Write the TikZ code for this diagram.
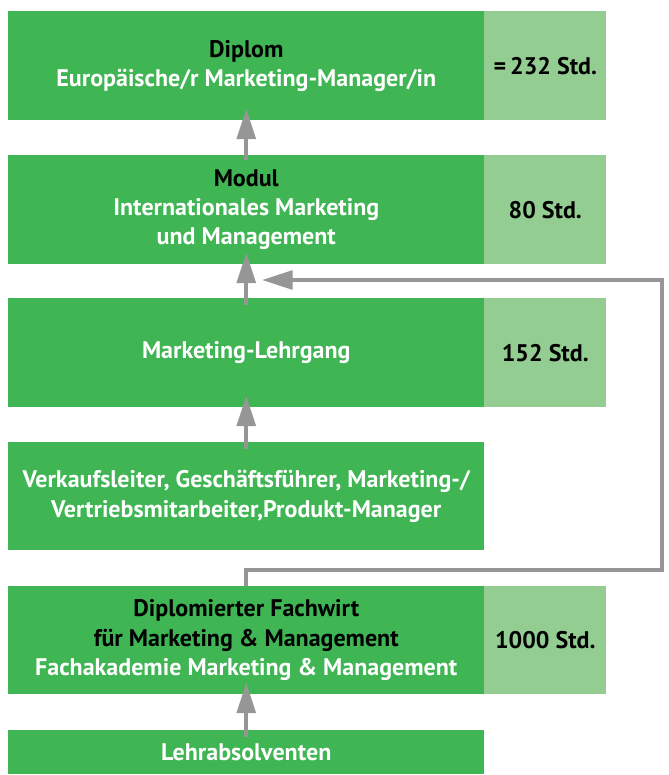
\documentclass[tikz,border=0pt]{standalone}
\usepackage{fontspec}
\setmainfont{PT Sans}
\usetikzlibrary{arrows.meta}
\begin{document}
\begin{tikzpicture}[x=0.75pt,y=-0.75pt,
box/.style={fill=color1,inner sep=0pt,minimum width=357pt,minimum height=81.75pt,anchor=north west,align=center,text=white,font=\fontsize{18}{22}\selectfont\bfseries},
hours/.style={fill=color2,inner sep=0pt,minimum width=91.5pt,minimum height=81.75pt,anchor=north west,text=black,font=\fontsize{18}{22}\selectfont\bfseries},
arrow/.style={draw=color3,line width=3pt,-{Triangle[width=14pt,length=23pt]}}]
\definecolor{color1}{RGB}{63,181,84}
\definecolor{color2}{RGB}{148,205,146}
\definecolor{color3}{RGB}{150,150,150}
\useasboundingbox (0,0) rectangle (668,775);
\coordinate[] (A1) at (8,11);
\coordinate[] (A2) at (484,11);
\coordinate[] (B1) at (8,155);
\coordinate[] (B2) at (484,155);
\coordinate[] (C1) at (8,298);
\coordinate[] (C2) at (484,298);
\coordinate[] (D1) at (8,442);
\coordinate[] (E1) at (8,586);
\coordinate[] (E2) at (484,586);
\coordinate[] (F1) at (8,730);
\coordinate[] (G1) at (662,570);
\coordinate[] (G2) at (662,280);
\coordinate[] (G3) at (262,280);
\node[box] (diplom) at (A1) {{\color{black}Diplom}\\Europäische/r Marketing-Manager/in};
\node[hours] (diplomh) at (A2) {=\,232 Std.};
\node[box] (modul) at (B1) {{\color{black}Modul}\\Internationales Marketing\\und Management};
\node[hours] (modulh) at (B2) {80 Std.};
\node[box] (lehrgang) at (C1) {Marketing-Lehrgang};
\node[hours] (lehrgangh) at (C2) {152 Std.};
\node[box,minimum height=81pt] (verkauf) at (D1) {Verkaufsleiter, Geschäftsführer, Marketing-/\\Vertriebsmitarbeiter,Produkt-Manager};
\node[box,minimum height=81pt] (fachwirt) at (E1) {{\color{black}Diplomierter Fachwirt}\\{\color{black}für Marketing \& Management}\\Fachakademie Marketing \& Management};
\node[hours,minimum height=81pt] (fachwirth) at (E2) {1000 Std.};
\node[box,minimum height=33pt] (lehrabs) at (F1) {Lehrabsolventen};
\draw[arrow] ([yshift=-4pt]modul.north) -- ([yshift=9pt]diplom.south);
\draw[arrow] ([yshift=-5pt]lehrgang.north) -- ([yshift=9pt]modul.south);
\draw[arrow] ([yshift=-5pt]verkauf.north) -- ([yshift=9pt]lehrgang.south);
\draw[arrow] ([yshift=-5pt]lehrabs.north) -- ([yshift=9pt]fachwirt.south);
\draw[arrow] (fachwirt.north) |- (G1) -- (G2) -- (G3);
\end{tikzpicture}
\end{document}
